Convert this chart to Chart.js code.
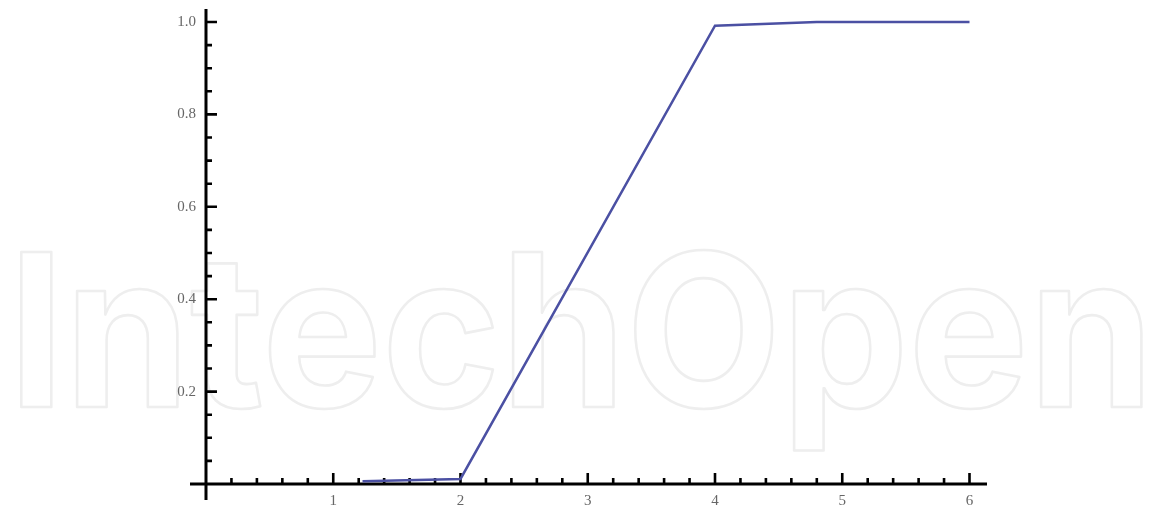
<!DOCTYPE html>
<html>
<head>
<meta charset="utf-8">
<script src="https://cdn.jsdelivr.net/npm/chart.js@4/dist/chart.umd.min.js"></script>
<style>
  html, body { margin: 0; padding: 0; background: #fff; }
  #wrap { width: 1149px; height: 511px; position: relative; }
</style>
</head>
<body>
<div id="wrap"><canvas id="chart"></canvas></div>
<script>
// curve
const xValues = [1.23, 2.0, 4.0, 4.8, 6.0];
const yValues = [0.006, 0.011, 0.992, 1.0, 1.0];

// axis ticks
const xMajorTicks = [1, 2, 3, 4, 5, 6];
const xMinorTicks = [0.2, 0.4, 0.6, 0.8, 1.2, 1.4, 1.6, 1.8, 2.2, 2.4, 2.6, 2.8,
  3.2, 3.4, 3.6, 3.8, 4.2, 4.4, 4.6, 4.8, 5.2, 5.4, 5.6, 5.8];
const yMajorTicks = [0.2, 0.4, 0.6, 0.8, 1.0];
const yMinorTicks = [0.05, 0.1, 0.15, 0.25, 0.3, 0.35, 0.45, 0.5, 0.55,
  0.65, 0.7, 0.75, 0.85, 0.9, 0.95];
const yTickLabels = ['0.2', '0.4', '0.6', '0.8', '1.0'];
const xTickLabels = ['1', '2', '3', '4', '5', '6'];

const watermark = 'IntechOpen';

let points = xValues.map((x, i) => ({ x: x, y: yValues[i] }));

// faint outlined watermark behind everything
const watermarkPlugin = {
  id: 'watermark',
  beforeDraw(chart) {
    let ctx = chart.ctx;
    ctx.save();
    ctx.font = '700 213px Inter';
    let w = ctx.measureText(watermark).width;
    let sx = 1146 / w;
    ctx.translate(8, 407);
    ctx.scale(sx, 1);
    ctx.lineWidth = 2.5 / sx;
    ctx.strokeStyle = '#eeeeee';
    ctx.lineJoin = 'round';
    ctx.textBaseline = 'alphabetic';
    ctx.strokeText(watermark, 0, 0);
    ctx.restore();
  }
};

// axes crossing at the origin, ticks pointing inward
const crossAxes = {
  id: 'crossAxes',
  beforeDatasetsDraw(chart) {
    let { ctx, chartArea, scales } = chart;
    let x0 = scales.x.getPixelForValue(0);
    let y0 = scales.y.getPixelForValue(0);
    ctx.save();
    ctx.strokeStyle = '#000';
    ctx.lineWidth = 3;
    ctx.beginPath();
    ctx.moveTo(chartArea.left, y0);
    ctx.lineTo(chartArea.right, y0);
    ctx.moveTo(x0, chartArea.top);
    ctx.lineTo(x0, chartArea.bottom);
    ctx.stroke();

    ctx.lineWidth = 2.6;
    ctx.beginPath();
    xMajorTicks.forEach(v => {
      let px = scales.x.getPixelForValue(v);
      ctx.moveTo(px, y0);
      ctx.lineTo(px, y0 - 11);
    });
    xMinorTicks.forEach(v => {
      let px = scales.x.getPixelForValue(v);
      ctx.moveTo(px, y0);
      ctx.lineTo(px, y0 - 6);
    });
    yMajorTicks.forEach(v => {
      let py = scales.y.getPixelForValue(v);
      ctx.moveTo(x0, py);
      ctx.lineTo(x0 + 11, py);
    });
    yMinorTicks.forEach(v => {
      let py = scales.y.getPixelForValue(v);
      ctx.moveTo(x0, py);
      ctx.lineTo(x0 + 6, py);
    });
    ctx.stroke();

    ctx.fillStyle = '#666';
    ctx.font = '15px "Liberation Serif"';
    ctx.textAlign = 'right';
    ctx.textBaseline = 'middle';
    yMajorTicks.forEach((v, i) => {
      ctx.fillText(yTickLabels[i], x0 - 10, scales.y.getPixelForValue(v));
    });
    ctx.textAlign = 'center';
    ctx.textBaseline = 'top';
    xMajorTicks.forEach((v, i) => {
      ctx.fillText(xTickLabels[i], scales.x.getPixelForValue(v), y0 + 10);
    });
    ctx.restore();
  }
};

new Chart(document.getElementById('chart'), {
  type: 'line',
  data: {
    datasets: [{
      data: points,
      borderColor: '#4b50a3',
      borderWidth: 2.5,
      pointRadius: 0,
      tension: 0,
      fill: false,
      clip: false
    }]
  },
  options: {
    responsive: true,
    maintainAspectRatio: false,
    animation: false,
    layout: { padding: { left: 190, right: 162, top: 9, bottom: 11 } },
    plugins: { legend: { display: false }, tooltip: { enabled: false } },
    scales: {
      x: { type: 'linear', display: false, min: -0.1257, max: 6.1375 },
      y: { type: 'linear', display: false, min: -0.03463, max: 1.02814 }
    }
  },
  plugins: [watermarkPlugin, crossAxes]
});
</script>
</body>
</html>
